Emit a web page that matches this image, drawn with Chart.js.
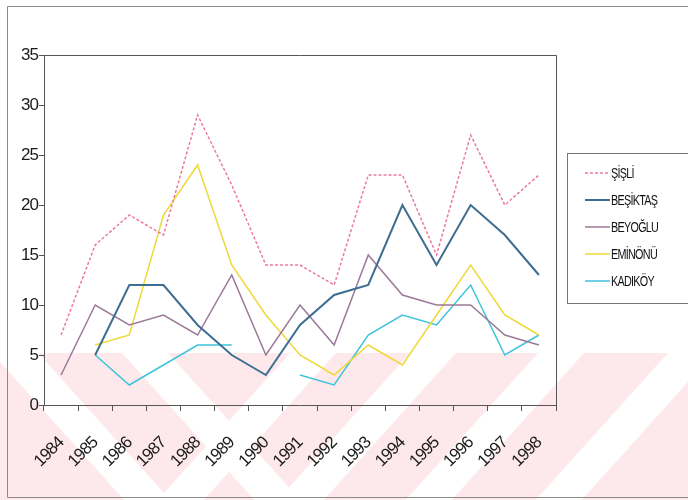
<!DOCTYPE html>
<html>
<head>
<meta charset="utf-8">
<script src="https://cdn.jsdelivr.net/npm/chart.js@4/dist/chart.umd.min.js"></script>
<style>
  html, body { margin: 0; padding: 0; background: #fff; }
  canvas { display: block; }
</style>
</head>
<body>
<canvas id="chart" width="688" height="500"></canvas>
<script>
// Yearly counts per district, 1984-1998
const years = ['1984','1985','1986','1987','1988','1989','1990','1991','1992','1993','1994','1995','1996','1997','1998'];
const sisli    = [7, 16, 19, 17, 29, 22, 14, 14, 12, 23, 23, 15, 27, 20, 23];
const besiktas = [null, 5, 12, 12, 8, 5, 3, 8, 11, 12, 20, 14, 20, 17, 13];
const beyoglu  = [3, 10, 8, 9, 7, 13, 5, 10, 6, 15, 11, 10, 10, 7, 6];
const eminonu  = [null, 6, 7, 19, 24, 14, 9, 5, 3, 6, 4, 9, 14, 9, 7];
const kadikoy  = [null, 5, 2, 4, 6, 6, null, 3, 2, 7, 9, 8, 12, 5, 7];
const seriesNames = ['ŞİŞLİ', 'BEŞİKTAŞ', 'BEYOĞLU', 'EMİNÖNÜ', 'KADIKÖY'];
const yMax = 35;
const yStep = 5;

const FONT = '"Liberation Sans", Arial, sans-serif';

// Paper background: outer frame and the pink striped band along the bottom
const paperPlugin = {
  id: 'paper',
  beforeDraw(chart) {
    const ctx = chart.ctx;
    const W = chart.width, H = chart.height;
    ctx.save();
    ctx.fillStyle = '#ffffff';
    ctx.fillRect(0, 0, W, H);

    const top = 353;
    ctx.fillStyle = '#fde9ec';
    ctx.fillRect(0, top, W, H - top);

    ctx.save();
    ctx.beginPath();
    ctx.rect(0, top, W, H - top);
    ctx.clip();
    ctx.fillStyle = '#ffffff';
    const span = H - top;
    const run = span * 0.9;
    const bw = 46;
    // stripes leaning "\"
    [-8, 122].forEach(x0 => {
      ctx.beginPath();
      ctx.moveTo(x0, top);
      ctx.lineTo(x0 + bw, top);
      ctx.lineTo(x0 + bw + run, H);
      ctx.lineTo(x0 + run, H);
      ctx.closePath();
      ctx.fill();
    });
    // stripes leaning "/"
    [290, 410, 538, 668].forEach(x0 => {
      ctx.beginPath();
      ctx.moveTo(x0, top);
      ctx.lineTo(x0 + bw, top);
      ctx.lineTo(x0 + bw - run, H);
      ctx.lineTo(x0 - run, H);
      ctx.closePath();
      ctx.fill();
    });
    ctx.restore();

    // outer frame
    ctx.strokeStyle = '#8a8a8a';
    ctx.lineWidth = 1;
    ctx.beginPath();
    ctx.moveTo(W, 6.5);
    ctx.lineTo(7.5, 6.5);
    ctx.lineTo(7.5, 497.5);
    ctx.lineTo(W, 497.5);
    ctx.stroke();
    ctx.restore();

    ctx.letterSpacing = '-1px';
  },
  beforeDatasetsDraw(chart) {
    const { ctx, chartArea: a } = chart;
    ctx.save();
    ctx.strokeStyle = '#555';
    ctx.lineWidth = 1;
    ctx.beginPath();
    ctx.moveTo(Math.round(a.left) + 0.5, Math.round(a.top) + 0.5);
    ctx.lineTo(Math.round(a.right) + 0.5, Math.round(a.top) + 0.5);
    ctx.lineTo(Math.round(a.right) + 0.5, Math.round(a.bottom) + 0.5);
    ctx.stroke();
    ctx.restore();
  },
  afterDraw(chart) {
    // boxed legend on the right
    const ctx = chart.ctx;
    ctx.save();
    ctx.fillStyle = '#fff';
    ctx.fillRect(567.5, 153.5, 140, 150);
    ctx.strokeStyle = '#777';
    ctx.lineWidth = 1;
    ctx.strokeRect(567.5, 153.5, 140, 150);
    chart.data.datasets.forEach((ds, i) => {
      const y = 173 + i * 27;
      ctx.strokeStyle = ds.borderColor;
      ctx.lineWidth = ds.borderWidth;
      ctx.setLineDash(ds.borderDash || []);
      ctx.beginPath();
      ctx.moveTo(585, y);
      ctx.lineTo(610, y);
      ctx.stroke();
      ctx.setLineDash([]);
      ctx.save();
      ctx.translate(611, y);
      ctx.scale(0.72, 1);
      ctx.letterSpacing = '-1px';
      ctx.font = '15px ' + FONT;
      ctx.fillStyle = '#111';
      ctx.textBaseline = 'middle';
      ctx.textAlign = 'left';
      ctx.fillText(ds.label, 0, 1);
      ctx.restore();
    });
    ctx.restore();
  }
};

const mk = (label, data, color, width, dash) => ({
  label, data,
  borderColor: color,
  borderWidth: width,
  borderDash: dash,
  pointRadius: 0,
  fill: false,
  tension: 0,
  spanGaps: false
});

new Chart(document.getElementById('chart'), {
  type: 'line',
  data: {
    labels: years,
    datasets: [
      mk(seriesNames[0], sisli, '#ea7a9e', 1.5, [3, 2]),
      mk(seriesNames[1], besiktas, '#3d6e92', 2, []),
      mk(seriesNames[2], beyoglu, '#9a7a98', 1.5, []),
      mk(seriesNames[3], eminonu, '#efd83a', 1.5, []),
      mk(seriesNames[4], kadikoy, '#3ec3db', 1.5, [])
    ]
  },
  options: {
    responsive: false,
    animation: false,
    devicePixelRatio: 1,
    layout: { padding: { top: 55, right: 132, left: 0, bottom: 0 } },
    plugins: { legend: { display: false }, tooltip: { enabled: false } },
    scales: {
      x: {
        offset: true,
        grid: { offset: true, drawOnChartArea: false, drawTicks: true, tickLength: 6, color: '#555' },
        border: { display: true, color: '#555', width: 1 },
        ticks: {
          autoSkip: false, maxRotation: 45, minRotation: 45, padding: 22,
          color: '#1a1a1a', font: { family: FONT, size: 17 }
        },
        afterFit(s) { s.height = 95; }
      },
      y: {
        min: 0, max: yMax,
        grid: { drawOnChartArea: false, drawTicks: true, tickLength: 5, color: '#555' },
        border: { display: true, color: '#555', width: 1 },
        ticks: { stepSize: yStep, padding: 1, color: '#1a1a1a', font: { family: FONT, size: 17 } },
        afterFit(s) { s.width = 44; }
      }
    }
  },
  plugins: [paperPlugin]
});
</script>
</body>
</html>
